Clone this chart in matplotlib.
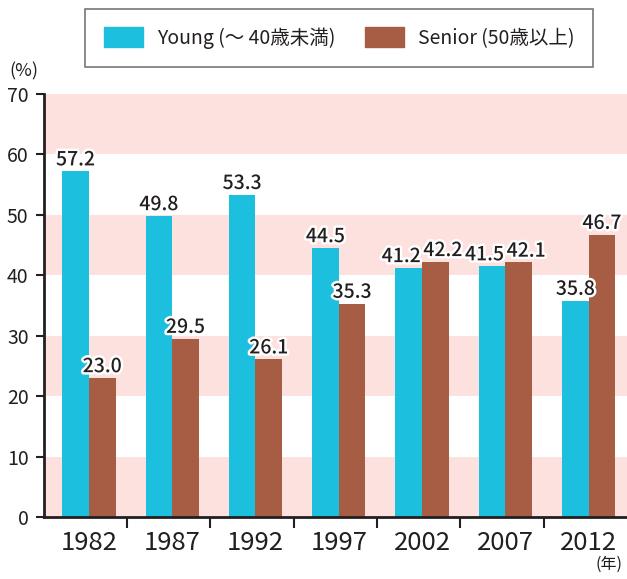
import numpy as np
import matplotlib.pyplot as plt
from matplotlib.patches import Patch
import matplotlib.patheffects as pe

plt.rcParams['font.family'] = ['Noto Sans CJK JP', 'DejaVu Sans']

# Data
years = ["1982", "1987", "1992", "1997", "2002", "2007", "2012"]
young = [57.2, 49.8, 53.3, 44.5, 41.2, 41.5, 35.8]
senior = [23.0, 29.5, 26.1, 35.3, 42.2, 42.1, 46.7]
legend_labels = ["Young (～ 40歳未満)", "Senior (50歳以上)"]

c_young = "#1DBFDF"
c_senior = "#A65D43"
c_band = "#FDE1DE"
c_text = "#231F20"

fig = plt.figure(figsize=(6.27, 5.79), dpi=100)
ax = fig.add_axes([0.070, 0.107, 0.93, 0.731])

x = np.arange(len(years))
w = 0.32
off = 0.04

# background bands
for lo in range(0, 70, 20):
    ax.axhspan(lo, lo + 10, color=c_band, zorder=0, lw=0)

b1 = ax.bar(x - w / 2 + off, young, w, color=c_young, zorder=2)
b2 = ax.bar(x + w / 2 + off, senior, w, color=c_senior, zorder=2)

stroke = [pe.withStroke(linewidth=3.5, foreground="white")]
for i in range(len(years)):
    # push labels apart when the two bars are almost the same height
    shift = 0.09 if abs(young[i] - senior[i]) < 3 else 0.0
    for b, v, sgn in ((b1[i], young[i], -1), (b2[i], senior[i], 1)):
        ax.text(b.get_x() + b.get_width() / 2 + sgn * shift, v + 0.3, f"{v:.1f}",
                ha="center", va="bottom", fontsize=14, fontweight="medium",
                color=c_text, path_effects=stroke, zorder=3)

ax.set_xlim(-0.5, len(years) - 0.5)
ax.set_ylim(0, 70)
ax.set_yticks(range(0, 71, 10))
ax.tick_params(axis="y", labelsize=14, length=6, width=1.5, colors=c_text, pad=5)

ax.set_xticks(np.arange(len(years) - 1) + 0.5)
ax.set_xticklabels([""] * (len(years) - 1))
ax.set_xticks(x + off, minor=True)
ax.set_xticklabels(years, minor=True)
ax.tick_params(axis="x", which="major", length=8, width=1.5, colors=c_text)
ax.tick_params(axis="x", which="minor", length=0, labelsize=18.5, colors=c_text, pad=9)

for s in ["top", "right"]:
    ax.spines[s].set_visible(False)
for s in ["left", "bottom"]:
    ax.spines[s].set_linewidth(2)
    ax.spines[s].set_color(c_text)

fig.text(0.015, 0.877, "(%)", fontsize=13, color=c_text, ha="left", va="center")
fig.text(0.993, 0.010, "(年)", fontsize=11.5, color=c_text, ha="right", va="bottom")

handles = [Patch(color=c_young), Patch(color=c_senior)]
leg = fig.legend(handles, legend_labels, loc="upper center",
                 bbox_to_anchor=(0.541, 0.985), ncol=2, fontsize=14,
                 frameon=True, fancybox=False, edgecolor="#555555",
                 handlelength=2.0, handleheight=1.2, columnspacing=1.5,
                 borderpad=0.95, handletextpad=0.75, labelcolor=c_text,
                 borderaxespad=0)
leg.get_frame().set_linewidth(1.2)

fig.savefig("out.png", dpi=100)
